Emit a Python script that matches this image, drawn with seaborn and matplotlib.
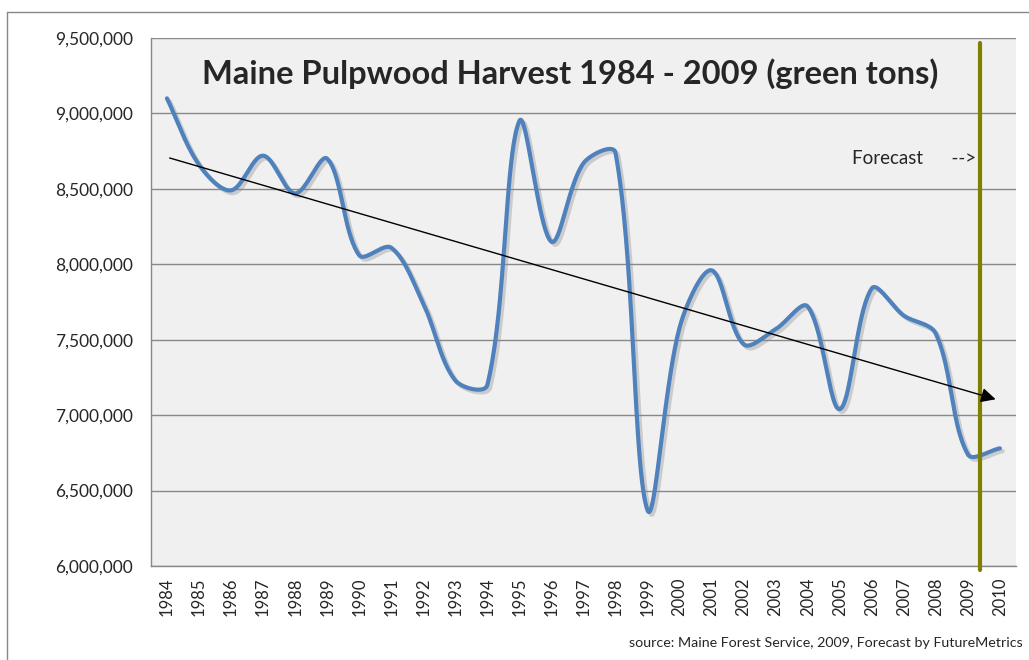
import numpy as np
import seaborn as sns
import matplotlib.pyplot as plt
import matplotlib.patheffects as pe
from matplotlib.lines import Line2D
from matplotlib.ticker import FuncFormatter, FixedLocator

# harvest in green tons (2010 is the forecast)
years = [1984, 1985, 1986, 1987, 1988, 1989, 1990, 1991, 1992, 1993, 1994, 1995, 1996,
         1997, 1998, 1999, 2000, 2001, 2002, 2003, 2004, 2005, 2006, 2007, 2008, 2009, 2010]
harvest = [9100000, 8660000, 8490000, 8720000, 8470000, 8700000, 8060000, 8110000,
           7740000, 7230000, 7200000, 8950000, 8150000, 8670000, 8740000, 6370000,
           7580000, 7960000, 7470000, 7570000, 7720000, 7040000, 7840000, 7660000,
           7540000, 6740000, 6780000]

# trend arrow, start and end (category position, value)
trend_start = (0, 8710000)
trend_end = (25.95, 7100000)
forecast_pos = 25.37

sns.set_style('white')
plt.rcParams['font.family'] = ['Lato', 'DejaVu Sans']


def smooth(x, y, n=40, xs_px=32.0, ys_px=150.86e-6):
    # excel-like smoothed line: bezier with tangents weighted by segment length
    P = np.column_stack([np.asarray(x, float) * xs_px, np.asarray(y, float) * ys_px])
    m = len(P)
    d = np.linalg.norm(np.diff(P, axis=0), axis=1)
    out = []
    for i in range(m - 1):
        p0, p3 = P[i], P[i + 1]
        if i == 0:
            c1 = p0 + (p3 - p0) / 3
        else:
            c1 = p0 + (P[i + 1] - P[i - 1]) / 3 * d[i] / (d[i - 1] + d[i])
        if i == m - 2:
            c2 = p3 - (p3 - p0) / 3
        else:
            c2 = p3 - (P[i + 2] - P[i]) / 3 * d[i] / (d[i] + d[i + 1])
        t = np.linspace(0, 1, n, endpoint=(i == m - 2))[:, None]
        out.append((1 - t) ** 3 * p0 + 3 * (1 - t) ** 2 * t * c1
                   + 3 * (1 - t) * t ** 2 * c2 + t ** 3 * p3)
    out = np.vstack(out)
    return out[:, 0] / xs_px, out[:, 1] / ys_px


pos = np.arange(len(years))
sx, sy = smooth(pos, harvest)

fig = plt.figure(figsize=(10.29, 6.6), dpi=100)
ax = fig.add_axes([0.1467, 0.1424, 0.8406, 0.8])
ax.set_facecolor('#f0f0f0')

sns.lineplot(x=sx, y=sy, ax=ax, color='#4f81bd', linewidth=3, sort=False,
             path_effects=[pe.SimpleLineShadow(offset=(2, -2), shadow_color='#888888', alpha=0.35),
                           pe.Normal()], zorder=3)

ax.set_xlim(-0.5, len(years) - 0.5)
ax.set_ylim(6000000, 9500000)
ax.set_yticks(np.arange(6000000, 9500001, 500000))
ax.yaxis.set_major_formatter(FuncFormatter(lambda v, p: f'{int(v):,}'))
ax.grid(axis='y', color='#888888', linewidth=1)
ax.set_axisbelow(True)

ax.set_xticks(pos)
ax.set_xticklabels([str(y) for y in years], rotation=90)
ax.xaxis.set_minor_locator(FixedLocator(np.arange(-0.5, len(years), 1)))
ax.tick_params(axis='x', which='major', length=0, pad=8, labelsize=12)
ax.tick_params(axis='x', which='minor', length=5, color='#888888', width=1)
ax.tick_params(axis='y', length=5, color='#888888', width=1, labelsize=12.5, pad=8)

for side in ['top', 'right']:
    ax.spines[side].set_visible(False)
for side in ['left', 'bottom']:
    ax.spines[side].set_color('#888888')
    ax.spines[side].set_linewidth(1)

# forecast divider
ax.plot([forecast_pos, forecast_pos], [9470000, 5975000], color='#808000',
        linewidth=3, clip_on=False, zorder=4)
ax.text(forecast_pos - 0.12, 8700000, 'Forecast      -->', ha='right', va='center', fontsize=13.5)

# trend arrow
ax.annotate('', xy=trend_end, xytext=trend_start,
            arrowprops=dict(arrowstyle='-|>', color='black', linewidth=1,
                            mutation_scale=22), zorder=5)

ax.text(12.58, 9265000, 'Maine Pulpwood Harvest 1984 - 2009 (green tons)',
        ha='center', va='center', fontsize=23.5, fontweight='bold')

fig.text(0.994, 0.026, 'source: Maine Forest Service, 2009, Forecast by FutureMetrics',
         ha='right', va='center', fontsize=10.3)

# outer chart frame
fig.add_artist(Line2D([7 / 1029, 7 / 1029], [0, 648 / 660], color='#888888', linewidth=1))
fig.add_artist(Line2D([7 / 1029, 1], [648 / 660, 648 / 660], color='#888888', linewidth=1))

plt.savefig('out.png', dpi=100)
